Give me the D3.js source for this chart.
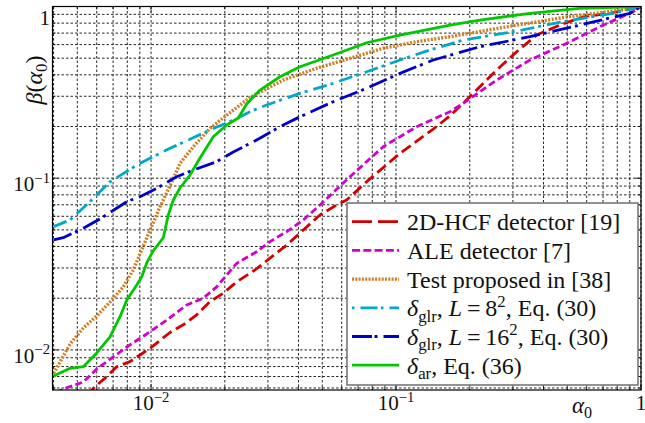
<!DOCTYPE html>
<html lang="en">
<head>
<meta charset="UTF-8">
<title>Detection probability vs alpha0</title>
<script src="https://d3js.org/d3.v7.min.js"></script>
<style>
  body { margin: 0; background: #fff; }
  svg { display: block; }
  svg text { font-family: "Liberation Serif", "Times New Roman", "DejaVu Serif", serif; }
</style>
</head>
<body>
<div id="chart"></div>
<script>
// values: [alpha0, beta(alpha0)]
const hcf = [[0.0055,0.0054],[0.00581,0.00598],[0.00659,0.00698],[0.00724,0.00798],[0.0082,0.00854],[0.00901,0.00934],[0.0099,0.0102],[0.01195,0.01263],[0.01354,0.014],[0.01536,0.016],[0.0174,0.0191],[0.01972,0.0214],[0.02236,0.0249],[0.02656,0.0292],[0.03059,0.0342],[0.03578,0.0408],[0.04182,0.0499],[0.04893,0.0611],[0.05724,0.0698],[0.06287,0.0746],[0.07589,0.0954],[0.1038,0.1396],[0.1419,0.1934],[0.166,0.2303],[0.2066,0.312],[0.2575,0.427],[0.3108,0.545],[0.375,0.682],[0.4668,0.78],[0.581,0.872],[0.7467,0.913],[1,1]];
const ale = [[0.0041,0.0056],[0.00438,0.00592],[0.00529,0.0065],[0.006,0.00774],[0.00701,0.0091],[0.00796,0.0104],[0.0096,0.01238],[0.01158,0.0149],[0.01398,0.01826],[0.01634,0.02],[0.01853,0.0233],[0.02236,0.0319],[0.02699,0.0373],[0.03059,0.0427],[0.03578,0.0488],[0.04182,0.0571],[0.04893,0.0698],[0.06486,0.102],[0.08869,0.1526],[0.1214,0.1995],[0.166,0.244],[0.188,0.273],[0.2575,0.373],[0.3522,0.488],[0.4972,0.61],[0.68,0.763],[0.9297,0.933],[1,1]];
const test38 = [[0.004,0.0073],[0.00425,0.0085],[0.00467,0.01082],[0.00529,0.01341],[0.006,0.01576],[0.0068,0.019],[0.0077,0.02324],[0.00846,0.0292],[0.0096,0.0448],[0.01088,0.0682],[0.01195,0.0901],[0.01313,0.1221],[0.01488,0.1526],[0.0174,0.195],[0.02036,0.233],[0.02534,0.295],[0.03465,0.373],[0.04744,0.437],[0.06486,0.499],[0.08869,0.571],[0.1214,0.624],[0.166,0.667],[0.2656,0.75],[0.4972,0.869],[0.901,0.967],[1,1]];
const glr8 = [[0.004,0.0522],[0.00467,0.0571],[0.00563,0.073],[0.0068,0.0954],[0.00874,0.119],[0.0099,0.1306],[0.01195,0.1493],[0.01442,0.1685],[0.0174,0.191],[0.02166,0.218],[0.02534,0.244],[0.02965,0.267],[0.04054,0.312],[0.05543,0.357],[0.07589,0.417],[0.1038,0.488],[0.1375,0.558],[0.188,0.638],[0.301,0.713],[0.4815,0.816],[0.7703,0.913],[1,1]];
const glr16 = [[0.004,0.0437],[0.00438,0.045],[0.00529,0.0511],[0.00619,0.0579],[0.00796,0.073],[0.00901,0.078],[0.01054,0.0873],[0.01272,0.102],[0.01488,0.1116],[0.01853,0.1248],[0.02166,0.1421],[0.02699,0.167],[0.0336,0.1995],[0.04054,0.228],[0.05543,0.279],[0.07589,0.334],[0.1038,0.408],[0.1419,0.488],[0.2201,0.583],[0.3522,0.667],[0.5633,0.78],[0.901,0.913],[1,1]];
const ar = [[0.004,0.00705],[0.00467,0.00781],[0.00529,0.00798],[0.006,0.0096],[0.0068,0.0119],[0.00747,0.0156],[0.00796,0.0195],[0.00874,0.02388],[0.00916,0.0267],[0.0096,0.0321],[0.0102,0.0377],[0.01122,0.045],[0.01176,0.0611],[0.01233,0.0746],[0.01313,0.0877],[0.01442,0.1043],[0.01584,0.1311],[0.01795,0.1744],[0.02036,0.204],[0.0227,0.224],[0.02457,0.2705],[0.02784,0.326],[0.0336,0.39],[0.04054,0.446],[0.05543,0.522],[0.07589,0.615],[0.1038,0.682],[0.166,0.78],[0.2201,0.834],[0.3522,0.913],[0.5633,0.976],[1,1]];

// legend labels: [text, kind] where kind is "" | "i" | "sub" | "sup"
const labels = [
  [["2D-HCF detector [19]", ""]],
  [["ALE detector [7]", ""]],
  [["Test proposed in [38]", ""]],
  [["\u03b4", "i"], ["glr", "sub"], [", ", ""], ["L", "i"], ["\u2009=\u2009", ""], ["8", ""], ["2", "sup"], [", Eq. (30)", ""]],
  [["\u03b4", "i"], ["glr", "sub"], [", ", ""], ["L", "i"], ["\u2009=\u2009", ""], ["16", ""], ["2", "sup"], [", Eq. (30)", ""]],
  [["\u03b4", "i"], ["ar", "sub"], [", Eq. (36)", ""]]
];

const xMajor = [0.01, 0.1, 1];
const xMajorText = [["10", "\u22122"], ["10", "\u22121"], ["1", ""]];
const yMajor = [0.01, 0.1, 1];
const yMajorText = [["10", "\u22122"], ["10", "\u22121"], ["1", ""]];

const serif = "'Liberation Serif', 'Times New Roman', 'DejaVu Serif', serif";

const series = [
  { data: hcf,    color: "#d40000", width: 2.8, dash: "11,5",     legendDash: "20,6" },
  { data: ale,    color: "#d000d0", width: 2.8, dash: "7,3.5",    legendDash: "8,3.3" },
  { data: test38, color: "#d27d1e", width: 3.4, dash: "2,1.5",    legendDash: "2,1.3" },
  { data: glr8,   color: "#00a8cc", width: 2.8, dash: "14,4,3,6", legendDash: "17,3.5,2.5,6", legendOffset: 20.5 },
  { data: glr16,  color: "#0000cc", width: 2.8, dash: "19,4,3,6", legendDash: "20,2.5,3,6" },
  { data: ar,     color: "#00c800", width: 2.8, dash: null,       legendDash: null }
];

const W = 645, H = 423;
const pLeft = 52.5, pRight = 641, pTop = 6.5, pBottom = 390;

const x = d3.scaleLog().domain([0.00396, 1]).range([pLeft, pRight]);
const y = d3.scaleLog().domain([0.00584, 1]).range([pBottom, pTop]);

const svg = d3.select("#chart").append("svg")
  .attr("width", W)
  .attr("height", H)
  .attr("font-family", serif);

svg.append("defs").append("clipPath")
  .attr("id", "plotClip")
  .append("rect")
  .attr("x", pLeft).attr("y", pTop)
  .attr("width", pRight - pLeft).attr("height", pBottom - pTop);

// grid
const grid = svg.append("g")
  .attr("stroke", "#111")
  .attr("stroke-width", 0.9)
  .attr("stroke-dasharray", "2.5,2");

grid.selectAll(".gx")
  .data(x.ticks())
  .enter().append("line")
  .attr("x1", d => x(d)).attr("x2", d => x(d))
  .attr("y1", pTop).attr("y2", pBottom);

grid.selectAll(".gy")
  .data(y.ticks())
  .enter().append("line")
  .attr("y1", d => y(d)).attr("y2", d => y(d))
  .attr("x1", pLeft).attr("x2", pRight);

// inward ticks on all four sides
const ticks = svg.append("g").attr("stroke", "#000").attr("stroke-width", 0.8);
x.ticks().forEach(v => {
  const len = xMajor.includes(v) ? 6 : 3;
  ticks.append("line").attr("x1", x(v)).attr("x2", x(v)).attr("y1", pBottom).attr("y2", pBottom - len);
  ticks.append("line").attr("x1", x(v)).attr("x2", x(v)).attr("y1", pTop).attr("y2", pTop + len);
});
y.ticks().forEach(v => {
  const len = yMajor.includes(v) ? 6 : 3;
  ticks.append("line").attr("y1", y(v)).attr("y2", y(v)).attr("x1", pLeft).attr("x2", pLeft + len);
  ticks.append("line").attr("y1", y(v)).attr("y2", y(v)).attr("x1", pRight).attr("x2", pRight - len);
});

// curves
const line = d3.line()
  .x(d => x(d[0]))
  .y(d => y(d[1]));

const curves = svg.append("g").attr("clip-path", "url(#plotClip)");
series.forEach(s => {
  curves.append("path")
    .datum(s.data)
    .attr("d", line)
    .attr("fill", "none")
    .attr("stroke", s.color)
    .attr("stroke-width", s.width)
    .attr("stroke-linejoin", "round")
    .attr("stroke-dasharray", s.dash);
});

// frame
svg.append("rect")
  .attr("x", pLeft).attr("y", pTop)
  .attr("width", pRight - pLeft).attr("height", pBottom - pTop)
  .attr("fill", "none")
  .attr("stroke", "#000")
  .attr("stroke-width", 1.2);

// rich text helper
function richText(sel, parts, size) {
  let shift = 0;
  sel.attr("font-family", serif);
  parts.forEach(([t, k]) => {
    const target = k === "sub" ? size * 0.22 : k === "sup" ? -size * 0.4 : 0;
    sel.append("tspan")
      .attr("dy", target - shift)
      .attr("font-size", (k === "sub" || k === "sup") ? size * 0.7 : size)
      .attr("font-style", k === "i" ? "italic" : null)
      .text(t);
    shift = target;
  });
}

// tick labels
xMajor.forEach((v, i) => {
  const t = svg.append("text")
    .attr("x", x(v))
    .attr("y", 410)
    .attr("text-anchor", "middle")
    .attr("fill", "#111");
  richText(t, [[xMajorText[i][0], ""], [xMajorText[i][1], "sup"]], 21);
});

yMajor.forEach((v, i) => {
  const t = svg.append("text")
    .attr("x", 50)
    .attr("y", Math.max(y(v) + 13, 25))
    .attr("text-anchor", "end")
    .attr("fill", "#111");
  richText(t, [[yMajorText[i][0], ""], [yMajorText[i][1], "sup"]], 21);
});

// axis labels
const xl = svg.append("text")
  .attr("x", 572)
  .attr("y", 413)
  .attr("fill", "#111");
richText(xl, [["\u03b1", "i"], ["0", "sub"]], 23);

const yl = svg.append("text")
  .attr("transform", "translate(42,80) rotate(-90)")
  .attr("text-anchor", "middle")
  .attr("fill", "#111");
richText(yl, [["\u03b2", "i"], ["(", ""], ["\u03b1", "i"], ["0", "sub"], [")", ""]], 24);

// legend
const lg = svg.append("g");
lg.append("rect")
  .attr("x", 347).attr("y", 203)
  .attr("width", 291).attr("height", 182)
  .attr("fill", "#fff")
  .attr("stroke", "#777")
  .attr("stroke-width", 1.6);

series.forEach((s, i) => {
  const cy = 221.7 + i * 28.7;
  lg.append("line")
    .attr("x1", 352).attr("x2", 399)
    .attr("y1", cy).attr("y2", cy)
    .attr("stroke", s.color)
    .attr("stroke-width", s.width)
    .attr("stroke-dasharray", s.legendDash)
    .attr("stroke-dashoffset", s.legendOffset || 0);
  const t = lg.append("text")
    .attr("x", 407)
    .attr("y", cy + 8.5)
    .attr("fill", "#111");
  richText(t, labels[i], 24);
});
</script>
</body>
</html>
